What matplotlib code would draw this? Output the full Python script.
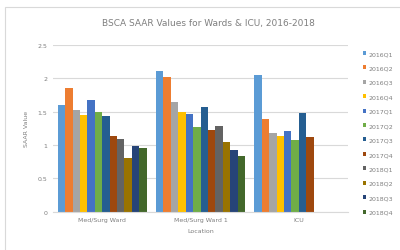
import numpy as np
import matplotlib
matplotlib.use("Agg")
import matplotlib.pyplot as plt
from matplotlib.patches import Rectangle

# data
locations = ["Med/Surg Ward", "Med/Surg Ward 1", "ICU"]
quarters = ["2016Q1", "2016Q2", "2016Q3", "2016Q4",
            "2017Q1", "2017Q2", "2017Q3", "2017Q4",
            "2018Q1", "2018Q2", "2018Q3", "2018Q4"]
ward = [1.60, 1.85, 1.53, 1.45, 1.68, 1.50, 1.43, 1.14, 1.09, 0.81, 0.98, 0.95]
ward1 = [2.11, 2.01, 1.64, 1.50, 1.47, 1.27, 1.57, 1.22, 1.29, 1.05, 0.93, 0.84]
icu = [2.05, 1.39, 1.18, 1.13, 1.21, 1.07, 1.48, 1.12, np.nan, np.nan, np.nan, np.nan]

colors = ["#5B9BD5", "#ED7D31", "#A5A5A5", "#FFC000", "#4472C4", "#70AD47",
          "#255E91", "#9E480E", "#636363", "#997300", "#264478", "#43682B"]

values = np.array([ward, ward1, icu])

fig = plt.figure(figsize=(4.0, 2.51), dpi=100)
fig.patches.append(Rectangle((0.013, -0.05), 1.1, 1.02, transform=fig.transFigure,
                             fill=False, edgecolor="#d9d9d9", linewidth=0.8))
ax = fig.add_axes([0.1325, 0.1526, 0.7375, 0.665])

x = np.arange(len(locations))
n = len(quarters)
group_w = 0.905
w = group_w / n
for i, q in enumerate(quarters):
    pos = x - group_w / 2 + w * (i + 0.5)
    ax.bar(pos, values[:, i], width=w, color=colors[i], label=q, linewidth=0)

ax.set_xlim(-0.5, 2.5)
ax.set_ylim(0, 2.5)
ax.set_yticks([0, 0.5, 1, 1.5, 2, 2.5])
ax.set_yticklabels(["0", "0.5", "1", "1.5", "2", "2.5"])
ax.set_xticks(x)
ax.set_xticklabels(locations)
ax.yaxis.grid(True, color="#d9d9d9", linewidth=0.8)
ax.set_axisbelow(True)
for s in ["top", "right", "left"]:
    ax.spines[s].set_visible(False)
ax.spines["bottom"].set_color("#d9d9d9")
ax.tick_params(length=0, labelsize=4.5, colors="#7f7f7f", pad=4)
ax.set_ylabel("SAAR Value", fontsize=4.5, color="#7f7f7f", labelpad=6)
ax.set_xlabel("Location", fontsize=4.5, color="#7f7f7f", labelpad=4)

fig.text(0.52, 0.905, "BSCA SAAR Values for Wards & ICU, 2016-2018",
         ha="center", va="center", fontsize=6.5, color="#7f7f7f")

ax.legend(loc="upper left", bbox_to_anchor=(1.035, 0.99), frameon=False,
          fontsize=4.5, labelcolor="#7f7f7f", handlelength=0.6, handleheight=0.6,
          handletextpad=0.4, labelspacing=1.48, borderaxespad=0.3)

fig.savefig("out.png", dpi=100)
